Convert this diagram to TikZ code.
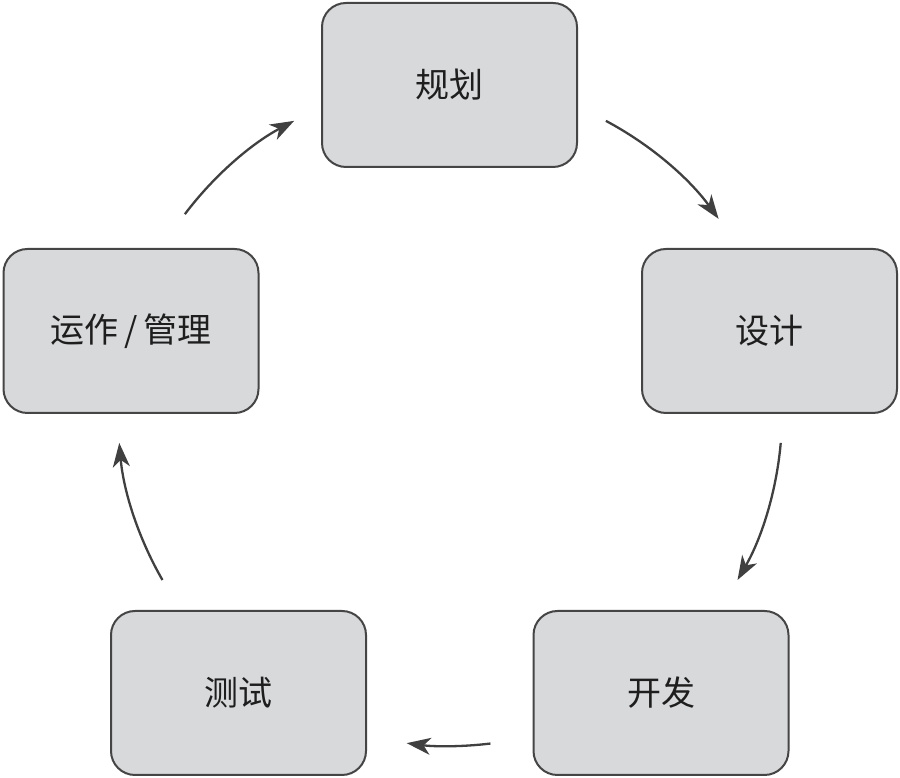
\documentclass[tikz,border=0pt]{standalone}
\usepackage{fontspec}
\newfontfamily\cjk{Noto Sans CJK SC}
\usetikzlibrary{arrows.meta,calc}
\definecolor{boxfill}{HTML}{D8D9DB}
\definecolor{boxline}{HTML}{454545}
\definecolor{arrowc}{HTML}{404040}
\definecolor{txt}{HTML}{1E1E1E}
\tikzset{
  stagebox/.style={draw=boxline, line width=2pt, fill=boxfill, rounded corners=24pt,
    minimum width=255pt, minimum height=164pt, inner sep=0pt,
    font=\cjk\fontsize{34pt}{38pt}\selectfont, text=txt},
  cyc/.style={draw=arrowc, line width=2.3pt, -{Stealth[length=24pt,width=17pt,inset=7pt]}}
}
\begin{document}
\begin{tikzpicture}[x=1pt,y=1pt]
\useasboundingbox (0,0) rectangle (900,778);
% boxes (image y flipped: y = 778 - y_img)
\node[stagebox] (plan) at (449.5,693) {规划};
\node[stagebox] (design) at (769.5,447) {设计};
\node[stagebox] (dev) at (661,85) {开发};
\node[stagebox] (test) at (238.5,85) {测试};
\node[stagebox] (ops) at (131,447) {运作\,/\,管理};
% cycle arcs
\coordinate (C) at (450,364);
\def\R{332}
\coordinate (s1) at ($(C)+(62:\R)$);
\coordinate (s2) at ($(C)+(-5:\R)$);
\coordinate (s3) at ($(C)+(-83:\R)$);
\coordinate (s4) at ($(C)+(-150:\R)$);
\coordinate (s5) at ($(C)+(143:\R)$);
\draw[cyc] (s1) arc[start angle=62, end angle=36, radius=\R];
\draw[cyc] (s2) arc[start angle=-5, end angle=-30, radius=\R];
\draw[cyc] (s3) arc[start angle=-83, end angle=-97.5, radius=\R];
\draw[cyc] (s4) arc[start angle=-150, end angle=-175, radius=\R];
\draw[cyc] (s5) arc[start angle=143, end angle=118, radius=\R];
\end{tikzpicture}
\end{document}
